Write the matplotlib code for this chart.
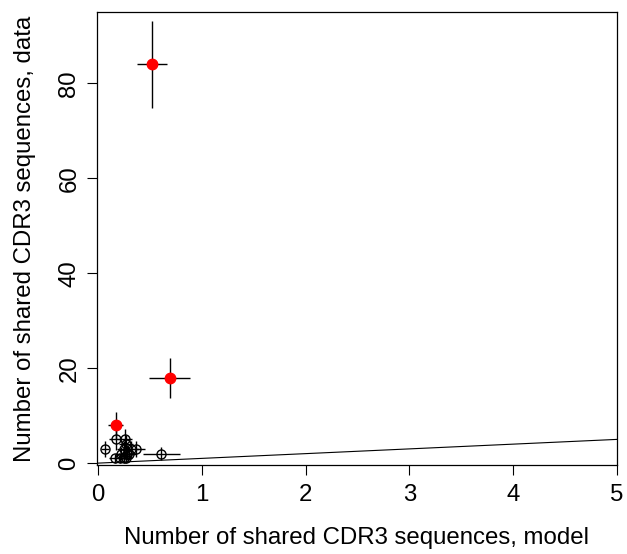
import matplotlib
matplotlib.use("Agg")
import matplotlib.pyplot as plt
import numpy as np

plt.rcParams['font.family'] = ['Liberation Sans', 'DejaVu Sans']

# Highlighted (red) points
red_x = [0.52, 0.69, 0.17]
red_y = [84, 18, 8]
red_xerr = [0.145, 0.20, 0.07]

# Open points
open_x = [0.07, 0.17, 0.26, 0.27, 0.32, 0.37, 0.61, 0.25, 0.28, 0.22, 0.16, 0.21, 0.25, 0.30, 0.27]
open_y = [3, 5, 5, 4, 3, 3, 2, 3, 2, 2, 1, 1, 1, 2, 1]
open_xerr = [0.04, 0.06, 0.07, 0.07, 0.07, 0.08, 0.18, 0.07, 0.07, 0.06, 0.05, 0.06, 0.06, 0.07, 0.06]

xticks = [0, 1, 2, 3, 4, 5]
yticks = [0, 20, 40, 60, 80]

FS = 17.3

fig = plt.figure(figsize=(6.27, 5.54), dpi=100)
ax = fig.add_axes([0.1547, 0.1606, 0.8293, 0.8174])

ax.errorbar(open_x, open_y, xerr=open_xerr, yerr=np.sqrt(open_y), fmt='o',
            mfc='none', mec='black', ecolor='black', elinewidth=1.0,
            markersize=6.5, mew=1.0, capsize=0, zorder=3)
ax.errorbar(red_x, red_y, xerr=red_xerr, yerr=np.sqrt(red_y), fmt='o',
            mfc='red', mec='red', ecolor='black', elinewidth=1.0,
            markersize=7.5, mew=1.0, capsize=0, zorder=4)

ax.plot([0, 5], [0, 5], color='black', lw=0.8)

ax.set_xlim(-0.01, 5.0)
ax.set_ylim(-0.4, 95)
ax.set_xticks(xticks)
ax.set_yticks(yticks)
ax.tick_params(axis='both', length=7, width=0.8, labelsize=FS)
ax.tick_params(axis='x', pad=7)
ax.tick_params(axis='y', pad=5)
for lab in ax.get_yticklabels():
    lab.set_rotation(90)
    lab.set_va('center')
for s in ax.spines.values():
    s.set_linewidth(0.9)

ax.set_xlabel("Number of shared CDR3 sequences, model", fontsize=FS, labelpad=15)
ax.set_ylabel("Number of shared CDR3 sequences, data", fontsize=FS, labelpad=16)

fig.savefig("out.png", dpi=100)
